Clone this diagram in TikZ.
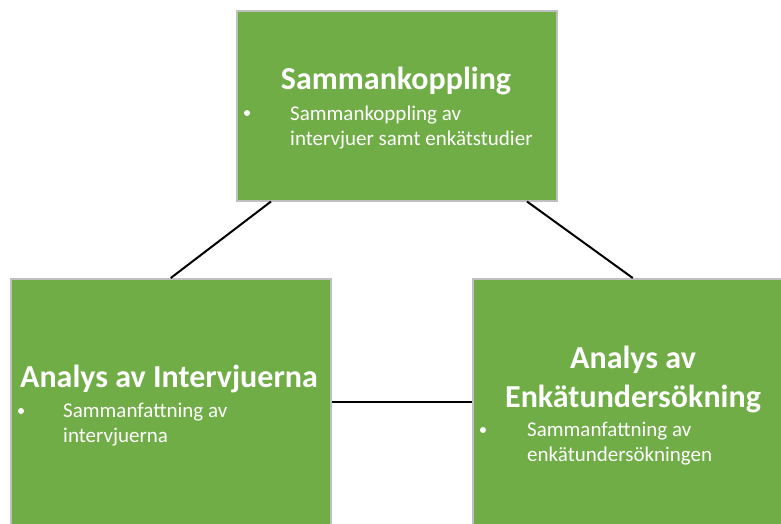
\documentclass[tikz,border=0pt]{standalone}
\usepackage{fontspec}
\setmainfont{Carlito}
\definecolor{boxgreen}{HTML}{70AD47}
\definecolor{boxborder}{HTML}{BFBFBF}
\begin{document}
\begin{tikzpicture}[x=1pt,y=-1pt,
 box/.style={draw=boxborder,line width=1.5pt,fill=boxgreen,minimum width=320pt,inner sep=0pt,anchor=north west},
 title/.style={text=white,font=\fontsize{32}{38}\selectfont\bfseries,anchor=base,inner sep=0pt},
 body/.style={text=white,font=\fontsize{21}{25}\selectfont,anchor=base west,inner sep=0pt},
 dot/.style={circle,fill=white,inner sep=0pt,minimum size=6pt},
 link/.style={black,line width=2pt}]
\useasboundingbox (0,0) rectangle (781,523);
\clip (0,0) rectangle (781,523);
\node[box,minimum height=190pt] (top) at (236,10) {};
\node[box,minimum height=260pt] (left) at (10,278) {};
\node[box,minimum height=260pt] (right) at (472,278) {};
\draw[link] ([xshift=35pt]top.south west) -- (left.north);
\draw[link] ([xshift=291pt]top.south west) -- (right.north);
\draw[link] ([yshift=7pt]left.east) -- ([yshift=7pt]right.west);
% top box
\node[title] (t1) at (396,89) {Sammankoppling};
\node[dot] (b1) at (247,113) {};
\node[body] (t1a) at (290,120) {Sammankoppling av};
\node[body] (t1b) at (290,145) {intervjuer samt enkätstudier};
% left box
\node[title] (t2) at (169,387) {Analys av Intervjuerna};
\node[dot] (b2) at (21,411) {};
\node[body] (t2a) at (63,417) {Sammanfattning av};
\node[body] (t2b) at (63,442) {intervjuerna};
% right box
\node[title] (t3) at (633,368) {Analys av};
\node[title] (t3b) at (633,407) {Enkätundersökning};
\node[dot] (b3) at (483,430) {};
\node[body] (t3c) at (527,436) {Sammanfattning av};
\node[body] (t3d) at (527,461) {enkätundersökningen};
\end{tikzpicture}
\end{document}
